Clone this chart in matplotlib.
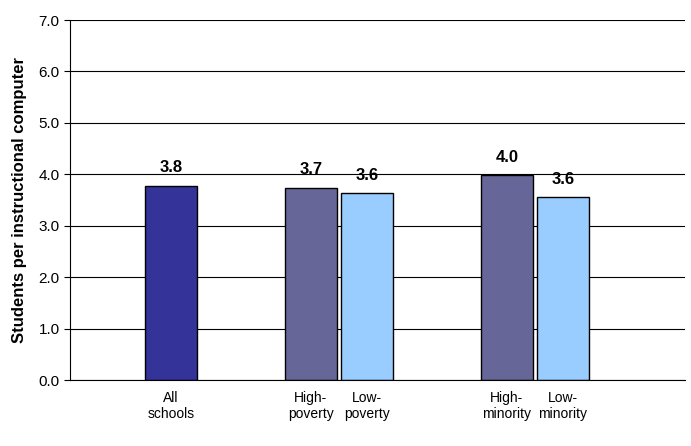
import matplotlib
matplotlib.use("Agg")
import matplotlib.pyplot as plt

categories = ["All\nschools", "High-\npoverty", "Low-\npoverty", "High-\nminority", "Low-\nminority"]
values = [3.78, 3.74, 3.63, 3.98, 3.55]
labels = ["3.8", "3.7", "3.6", "4.0", "3.6"]
positions = [0, 2.5, 3.5, 6, 7]
colors = ["#333399", "#666699", "#99CCFF", "#666699", "#99CCFF"]

plt.rcParams["font.family"] = ["Liberation Sans", "DejaVu Sans"]
fig = plt.figure(figsize=(6.91, 4.46), dpi=100)
ax = fig.add_axes([70 / 691, 66 / 446, 615 / 691, 360 / 446])
ax.set_xlim(-1.8, 9.18)
ax.set_ylim(0, 7)
ax.set_yticks([i for i in range(8)])
ax.set_yticklabels([f"{i:.1f}" for i in range(8)], fontsize=11)
ax.yaxis.grid(True, color="black", linewidth=0.8)
ax.set_axisbelow(True)
ax.bar(positions, values, width=0.93, color=colors, edgecolor="black", linewidth=1)
for x, v, t in zip(positions, values, labels):
    ax.text(x, v + 0.2, t, ha="center", va="bottom", fontsize=12, fontweight="bold")
ax.set_xticks(positions)
ax.set_xticklabels(categories, fontsize=10)
ax.tick_params(axis="x", length=0, pad=8)
ax.tick_params(axis="y", length=4)
for s in ["top", "right"]:
    ax.spines[s].set_visible(False)
ax.set_ylabel("Students per instructional computer", fontsize=12, fontweight="bold", labelpad=8)
fig.savefig("out.png")
